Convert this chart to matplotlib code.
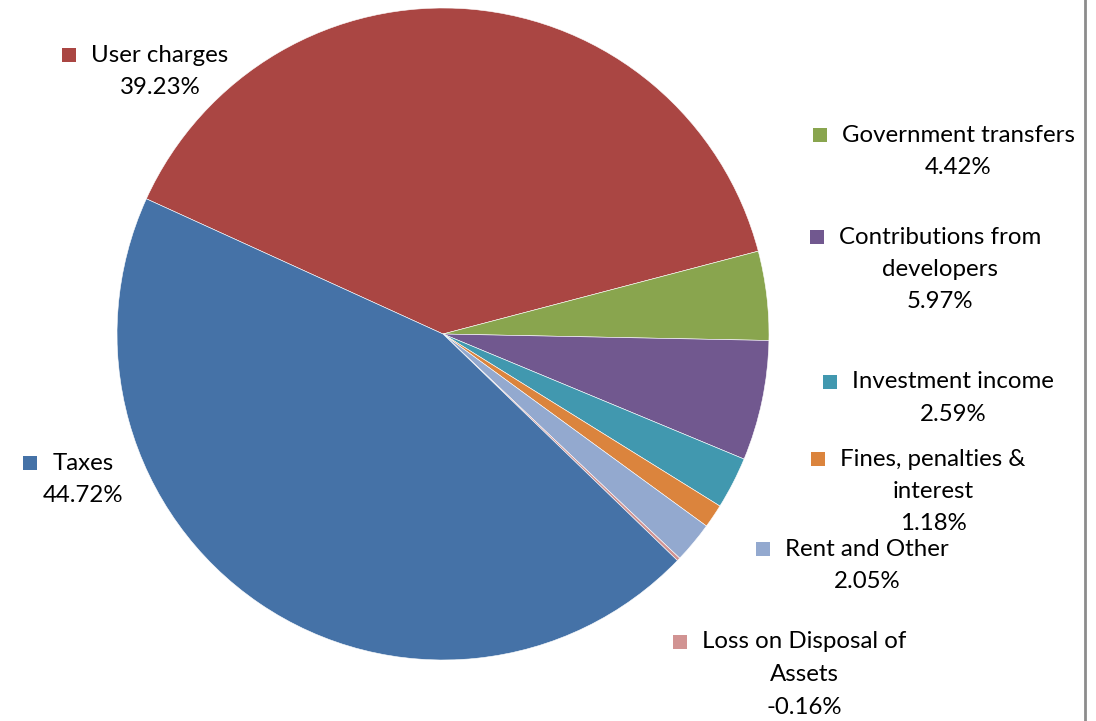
import matplotlib
matplotlib.use("Agg")
import matplotlib.pyplot as plt
from matplotlib.patches import Rectangle

categories = [
    "User charges",
    "Government transfers",
    "Contributions from\ndevelopers",
    "Investment income",
    "Fines, penalties &\ninterest",
    "Rent and Other",
    "Loss on Disposal of\nAssets",
    "Taxes",
]
shares = [39.23, 4.42, 5.97, 2.59, 1.18, 2.05, -0.16, 44.72]
colors = ["#AA4643", "#89A54E", "#71588F", "#4198AF",
          "#DB843D", "#93A9CF", "#D19392", "#4572A7"]

# label anchors (x, y of first line), in pixels from the top-left corner
label_pos = [(160, 55), (958, 135), (940, 237), (953, 382),
             (933, 459), (867, 549), (804, 642), (83, 463)]

W, H = 1096, 721
fig = plt.figure(figsize=(W / 100, H / 100), dpi=100)
ax = fig.add_axes([0, 0, 1, 1])

# Excel draws the negative item by its magnitude
sizes = [abs(v) for v in shares]
ax.pie(sizes, colors=colors, startangle=155.5, counterclock=False,
       center=(443, H - 334), radius=326,
       wedgeprops=dict(edgecolor="white", linewidth=0.4))

# pie() resets the view, so fix the pixel frame afterwards
ax.set_xlim(0, W)
ax.set_ylim(0, H)
ax.set_aspect("equal")
ax.axis("off")

ax.plot([1085, 1085], [0, H], color="#8c8c8c", lw=2)

font = dict(family="Lato", fontsize=17.3, color="black")
line_h = 32.5
first_lines = []
for name, val, (x, y) in zip(categories, shares, label_pos):
    lines = name.split("\n") + [f"{val:.2f}%"]
    for i, txt in enumerate(lines):
        t = ax.text(x, H - (y + i * line_h), txt, ha="center", va="center", **font)
        if i == 0:
            first_lines.append(t)

fig.canvas.draw()
renderer = fig.canvas.get_renderer()
for t, col in zip(first_lines, colors):
    bb = t.get_window_extent(renderer)
    xc = bb.x0 - 15 - 7
    yc = t.get_position()[1]
    ax.add_patch(Rectangle((xc - 7, yc - 7), 14, 14, color=col, lw=0))

fig.savefig("out.png", dpi=100)
